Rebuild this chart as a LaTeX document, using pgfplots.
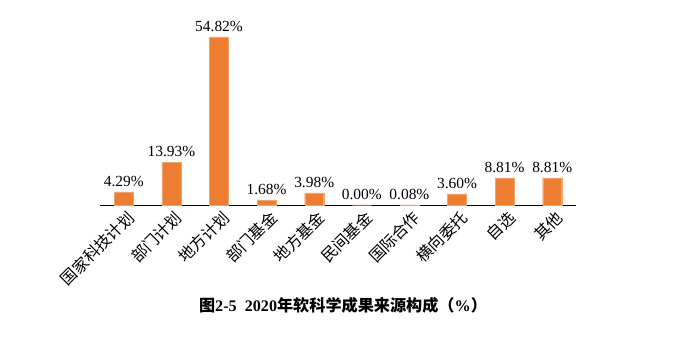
\documentclass[border=0pt]{standalone}
\usepackage{fontspec}
\setmainfont{Liberation Serif}
\newfontfamily\cjk{Noto Sans CJK SC}
\usepackage{pgfplots}
\pgfplotsset{compat=1.18}
\definecolor{barorange}{HTML}{ED7D31}
\begin{document}
\begin{tikzpicture}
\useasboundingbox (0,0) rectangle (675bp,354bp);
\begin{axis}[
  at={(100bp,149bp)}, anchor=south west,
  scale only axis, width=476bp, height=184bp,
  xmin=-0.5, xmax=9.5, ymin=0, ymax=60,
  axis x line*=bottom, axis y line=none,
  x axis line style={-, black, line width=0.8pt},
  xtick={0,...,9}, ytick=\empty,
  xtick style={draw=none},
  xticklabels={国家科技计划,部门计划,地方计划,部门基金,地方基金,民间基金,国际合作,横向委托,自选,其他},
  xticklabel style={font=\cjk\fontsize{16}{16}\selectfont, rotate=45, anchor=east, xshift=5bp, yshift=-9bp},
  ybar, bar width=19bp,
  clip=false,
  /pgf/number format/assume math mode=true,
  nodes near coords={\pgfmathprintnumber[fixed,fixed zerofill,precision=2]{\pgfplotspointmeta}\%},
  nodes near coords style={font=\fontsize{15.5}{16}\selectfont, black, anchor=south, yshift=2bp},
]
\addplot[fill=barorange, draw=barorange!70!white] coordinates {
(0,4.29) (1,13.93) (2,54.82) (3,1.68) (4,3.98) (5,0.00) (6,0.08) (7,3.60) (8,8.81) (9,8.81)
};
\end{axis}
\node[font=\bfseries\fontsize{16.2}{16}\selectfont] at (343bp,49bp) {{\cjk 图}2-5\ \ 2020{\cjk 年软科学成果来源构成（}\%{\cjk ）}};
\end{tikzpicture}
\end{document}
